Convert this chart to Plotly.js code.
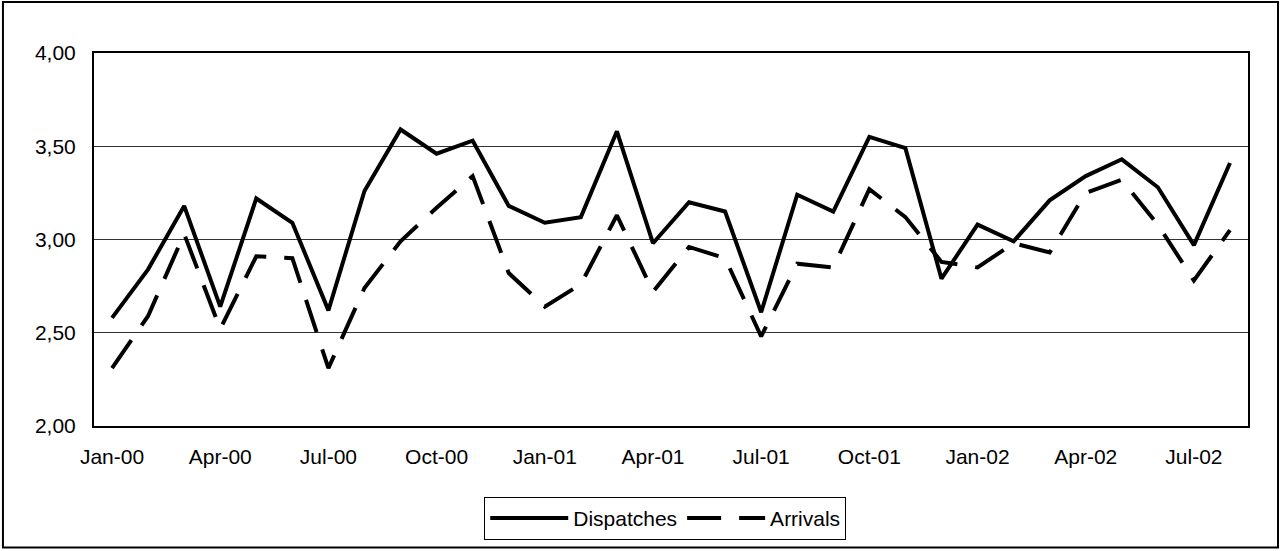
<!DOCTYPE html>
<html>
<head>
<meta charset="utf-8">
<script src="https://cdn.plot.ly/plotly-3.0.1.min.js"></script>
<style>
  html, body { margin: 0; padding: 0; background: #fff; }
  #chart { width: 1282px; height: 551px; }
</style>
</head>
<body>
<div id="chart"></div>
<script>
const months = ["Jan-00","Feb-00","Mar-00","Apr-00","May-00","Jun-00","Jul-00","Aug-00","Sep-00","Oct-00","Nov-00","Dec-00",
                "Jan-01","Feb-01","Mar-01","Apr-01","May-01","Jun-01","Jul-01","Aug-01","Sep-01","Oct-01","Nov-01","Dec-01",
                "Jan-02","Feb-02","Mar-02","Apr-02","May-02","Jun-02","Jul-02","Aug-02"];
const dispatches = [2.58, 2.84, 3.18, 2.64, 3.22, 3.09, 2.62, 3.26, 3.59, 3.46, 3.53, 3.18,
                    3.09, 3.12, 3.58, 2.98, 3.20, 3.15, 2.61, 3.24, 3.15, 3.55, 3.49, 2.79,
                    3.08, 2.99, 3.21, 3.34, 3.43, 3.28, 2.97, 3.41];
const arrivals = [2.31, 2.59, 3.03, 2.52, 2.91, 2.90, 2.31, 2.74, 2.99, 3.17, 3.34, 2.82,
                  2.64, 2.76, 3.13, 2.72, 2.96, 2.90, 2.48, 2.87, 2.85, 3.27, 3.12, 2.88,
                  2.85, 2.98, 2.93, 3.25, 3.32, 3.08, 2.78, 3.05];
const xTickLabels = ["Jan-00","Apr-00","Jul-00","Oct-00","Jan-01","Apr-01","Jul-01","Oct-01","Jan-02","Apr-02","Jul-02"];
const yTicks = [2.0, 2.5, 3.0, 3.5, 4.0];

const FONT = "Liberation Sans, Arial, Helvetica, sans-serif";

const traces = [
  {
    x: months, y: dispatches, name: "Dispatches", type: "scatter", mode: "lines",
    line: { color: "#000", width: 4 }
  },
  {
    x: months, y: arrivals, name: "Arrivals", type: "scatter", mode: "lines",
    line: { color: "#000", width: 4, dash: "34px,18px" }
  }
];

const layout = {
  width: 1282, height: 551,
  margin: { l: 94, r: 34, t: 53, b: 124, pad: 0 },
  paper_bgcolor: "#fff", plot_bgcolor: "#fff",
  separators: ", ",
  font: { family: FONT, size: 21, color: "#000" },
  showlegend: true,
  legend: {
    orientation: "h", x: 0.495, xanchor: "center", y: -0.187, yanchor: "top",
    bordercolor: "#000", borderwidth: 1, bgcolor: "#fff",
    font: { family: FONT, size: 21, color: "#000" },
    itemwidth: 78, tracegroupgap: 0
  },
  xaxis: {
    type: "category", categoryorder: "array", categoryarray: months,
    range: [-0.5, months.length - 0.5],
    tickmode: "array", tickvals: xTickLabels, ticktext: xTickLabels,
    showgrid: false, zeroline: false, ticks: "",
    showline: true, linecolor: "#000", linewidth: 2, mirror: true,
    tickfont: { family: FONT, size: 21, color: "#000" },
    ticklabelstandoff: 11,
    fixedrange: true
  },
  yaxis: {
    range: [2, 4], tickmode: "array", tickvals: yTicks, tickformat: ".2f",
    showgrid: true, gridcolor: "#333", gridwidth: 1,
    zeroline: false, ticks: "",
    showline: true, linecolor: "#000", linewidth: 2, mirror: true,
    tickfont: { family: FONT, size: 21, color: "#000" },
    ticklabelstandoff: 12,
    fixedrange: true
  },
  shapes: [
    {
      type: "rect", xref: "paper", yref: "paper",
      x0: -0.0789, x1: 1.026, y0: -0.326, y1: 1.1364,
      line: { color: "#000", width: 2 }, fillcolor: "rgba(0,0,0,0)", layer: "below"
    }
  ]
};

Plotly.newPlot("chart", traces, layout, { displayModeBar: false, staticPlot: true });
</script>
</body>
</html>
